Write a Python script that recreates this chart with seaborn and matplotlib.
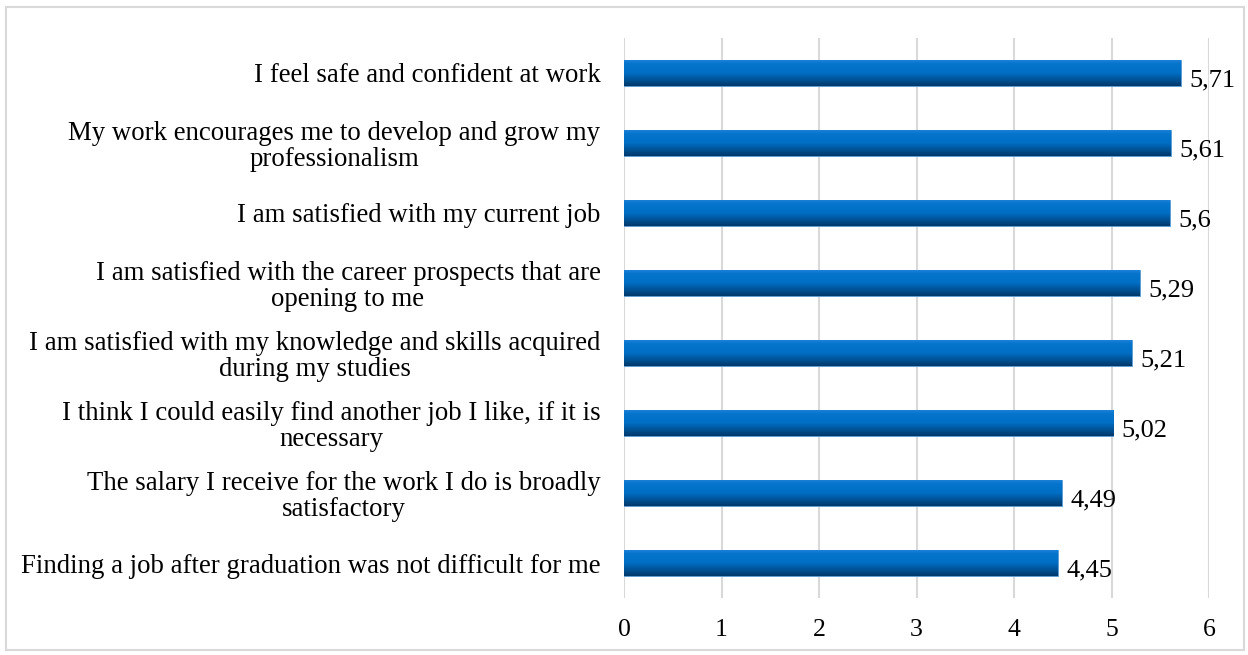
import matplotlib
matplotlib.use("Agg")
import matplotlib.pyplot as plt
import seaborn as sns
import numpy as np
import pandas as pd
from matplotlib.patches import Rectangle
from matplotlib.colors import LinearSegmentedColormap

categories = [
    "I feel safe and confident at work",
    "My work encourages me to develop and grow my\nprofessionalism",
    "I am satisfied with my current job",
    "I am satisfied with the career prospects that are\nopening to me",
    "I am satisfied with my knowledge and skills acquired\nduring my studies",
    "I think I could easily find another job I like, if it is\nnecessary",
    "The salary I receive for the work I do is broadly\nsatisfactory",
    "Finding a job after graduation was not difficult for me",
]
values = [5.71, 5.61, 5.60, 5.29, 5.21, 5.02, 4.49, 4.45]
value_labels = ["5,71", "5,61", "5,6", "5,29", "5,21", "5,02", "4,49", "4,45"]
xticks = [0, 1, 2, 3, 4, 5, 6]

sns.set_theme(style="white")
plt.rcParams['font.family'] = ['Liberation Serif', 'DejaVu Serif']

fig = plt.figure(figsize=(12.48, 6.55), dpi=100)
ax = fig.add_axes([0.5, 0.087, 0.46875, 0.855])

df = pd.DataFrame({"cat": categories, "val": values})
sns.barplot(data=df, x="val", y="cat", orient="h", color="#0070C0",
            width=0.36, ax=ax, saturation=1, zorder=3)

cmap = LinearSegmentedColormap.from_list(
    "bev", [(0.0, "#1A80D8"), (0.15, "#0574CC"), (0.5, "#006EC4"),
            (0.65, "#005DA8"), (0.85, "#004A87"), (1.0, "#00386A")])
grad = np.linspace(0, 1, 64).reshape(-1, 1)
for p in ax.patches:
    x0, y0 = p.get_x(), p.get_y()
    w, h = p.get_width(), p.get_height()
    im = ax.imshow(grad, cmap=cmap, aspect="auto",
                   extent=[x0, x0 + w, y0 + h, y0], origin="upper",
                   zorder=4, interpolation="bilinear")
    im.set_clip_path(p)
    p.set_edgecolor("#5B9BD5")
    p.set_linewidth(0.6)

for i, (v, lab) in enumerate(zip(values, value_labels)):
    ax.text(v + 0.085, i + 0.1, lab, va="center", ha="left",
            fontsize=19, color="black", zorder=5)

ax.set_xlim(0, 6)
ax.set_ylim(7.5, -0.5)
ax.set_xticks(xticks)
ax.set_xticklabels([str(t) for t in xticks])
ax.set_xlabel("")
ax.set_ylabel("")
ax.grid(axis="x", color="#D9D9D9", linewidth=1.5, zorder=0)
ax.grid(axis="y", visible=False)
ax.set_axisbelow(True)
for s in ax.spines.values():
    s.set_visible(False)
ax.tick_params(axis="x", length=0, pad=15, labelsize=18.5, colors="black")
ax.tick_params(axis="y", length=0, pad=17, labelsize=19.3, colors="black")
for t in ax.get_yticklabels():
    t.set_horizontalalignment("right")
    t.set_multialignment("center")
    t.set_linespacing(1.03)

fig.patches.append(Rectangle((6 / 1248, 5 / 655), 1238 / 1248, 643 / 655,
                             transform=fig.transFigure, fill=False,
                             edgecolor="#D9D9D9", linewidth=1.5))

fig.savefig("out.png", dpi=100)
